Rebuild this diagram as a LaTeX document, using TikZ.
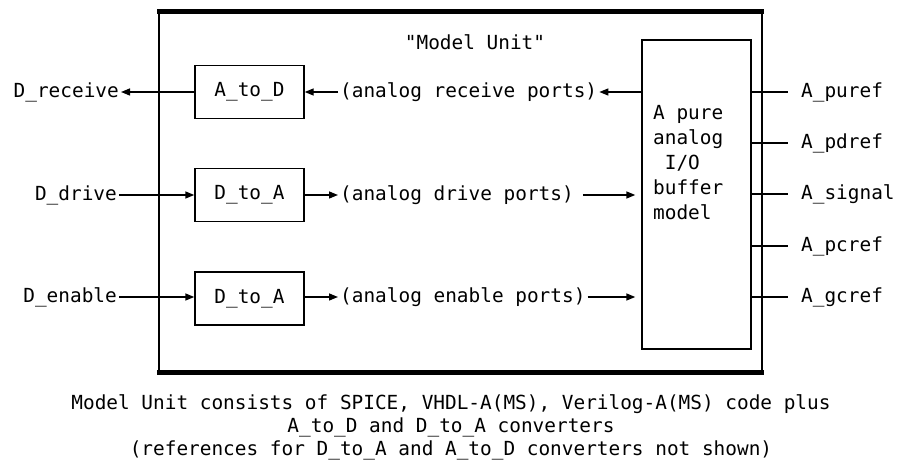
\documentclass[tikz,border=0pt]{standalone}
\usepackage{fontspec}
\setmonofont{DejaVu Sans Mono}
\usetikzlibrary{arrows.meta}
\begin{document}
\begin{tikzpicture}[x=1pt,y=-1pt,
  every node/.style={font=\ttfamily\fontsize{19.4}{25}\selectfont},
  conv/.style={draw,line width=1.4pt,minimum width=109pt,minimum height=53pt,inner sep=0pt},
  arr/.style={line width=1.4pt,-{Stealth[length=9pt,width=7pt,inset=0pt]}},
  ln/.style={line width=1.4pt},
  lbl/.style={inner xsep=2pt,inner ysep=0pt}]
\useasboundingbox (0,0) rectangle (898,462);
% outer model unit frame
\draw[line width=1.8pt] (159,12) rectangle (762,373);
\draw[line width=5pt] (157,12) -- (764,12);
\draw[line width=5pt] (157,373) -- (764,373);
\node (title) at (475,42) {"Model Unit"};
% converter boxes
\node[conv] (atod) at (249.5,92) {A\_to\_D};
\node[conv] (dtoa1) at (249.5,195) {D\_to\_A};
\node[conv] (dtoa2) at (249.5,298.5) {D\_to\_A};
% buffer
\node[draw,line width=1.4pt,minimum width=109pt,minimum height=309pt,inner sep=0pt] (buf) at (696.5,194.5) {};
\node[align=left,anchor=north west,inner sep=0pt] (buftxt) at (653,105) {A pure\\analog\\\ I/O\\buffer\\model};
% left labels
\node[lbl,anchor=east] (drecv) at (121,92) {D\_receive};
\node[lbl,anchor=east] (ddrive) at (119,195) {D\_drive};
\node[lbl,anchor=east] (denable) at (119,297) {D\_enable};
% middle labels
\node[lbl,anchor=west] (prc) at (338,92) {(analog receive ports)};
\node[lbl,anchor=west] (pdr) at (338,195) {(analog drive ports)};
\node[lbl,anchor=west] (pen) at (338,297) {(analog enable ports)};
% right labels
\node[anchor=west,inner xsep=13pt,inner ysep=0pt] (puref) at (788,92) {A\_puref};
\node[anchor=west,inner xsep=13pt,inner ysep=0pt] (pdref) at (788,143) {A\_pdref};
\node[anchor=west,inner xsep=13pt,inner ysep=0pt] (signal) at (788,194) {A\_signal};
\node[anchor=west,inner xsep=13pt,inner ysep=0pt] (pcref) at (788,246) {A\_pcref};
\node[anchor=west,inner xsep=13pt,inner ysep=0pt] (gcref) at (788,297) {A\_gcref};
% connectors
\draw[arr] (atod.west) -- (drecv.east);
\draw[arr] (prc.west) -- (atod.east |- prc.west);
\draw[arr] (buf.west |- prc.east) -- (prc.east);
\draw[arr] (ddrive.east) -- (dtoa1.west |- ddrive.east);
\draw[arr] (dtoa1.east) -- (pdr.west |- dtoa1.east);
\draw[arr,shorten <=7pt,shorten >=6pt] (pdr.east) -- (buf.west |- pdr.east);
\draw[arr] (denable.east) -- (dtoa2.west |- denable.east);
\draw[arr] (dtoa2.east |- pen.west) -- (pen.west);
\draw[arr,shorten >=6pt] (pen.east) -- (buf.west |- pen.east);
\foreach \n in {puref,pdref,signal,pcref,gcref}
  \draw[ln] (buf.east |- \n.west) -- (\n.west);
% caption
\node[align=center,inner sep=0pt,font=\ttfamily\fontsize{19.4}{23}\selectfont] (cap) at (451,427) {Model Unit consists of SPICE, VHDL-A(MS), Verilog-A(MS) code plus\\A\_to\_D and D\_to\_A converters\\(references for D\_to\_A and A\_to\_D converters not shown)};
\end{tikzpicture}
\end{document}
